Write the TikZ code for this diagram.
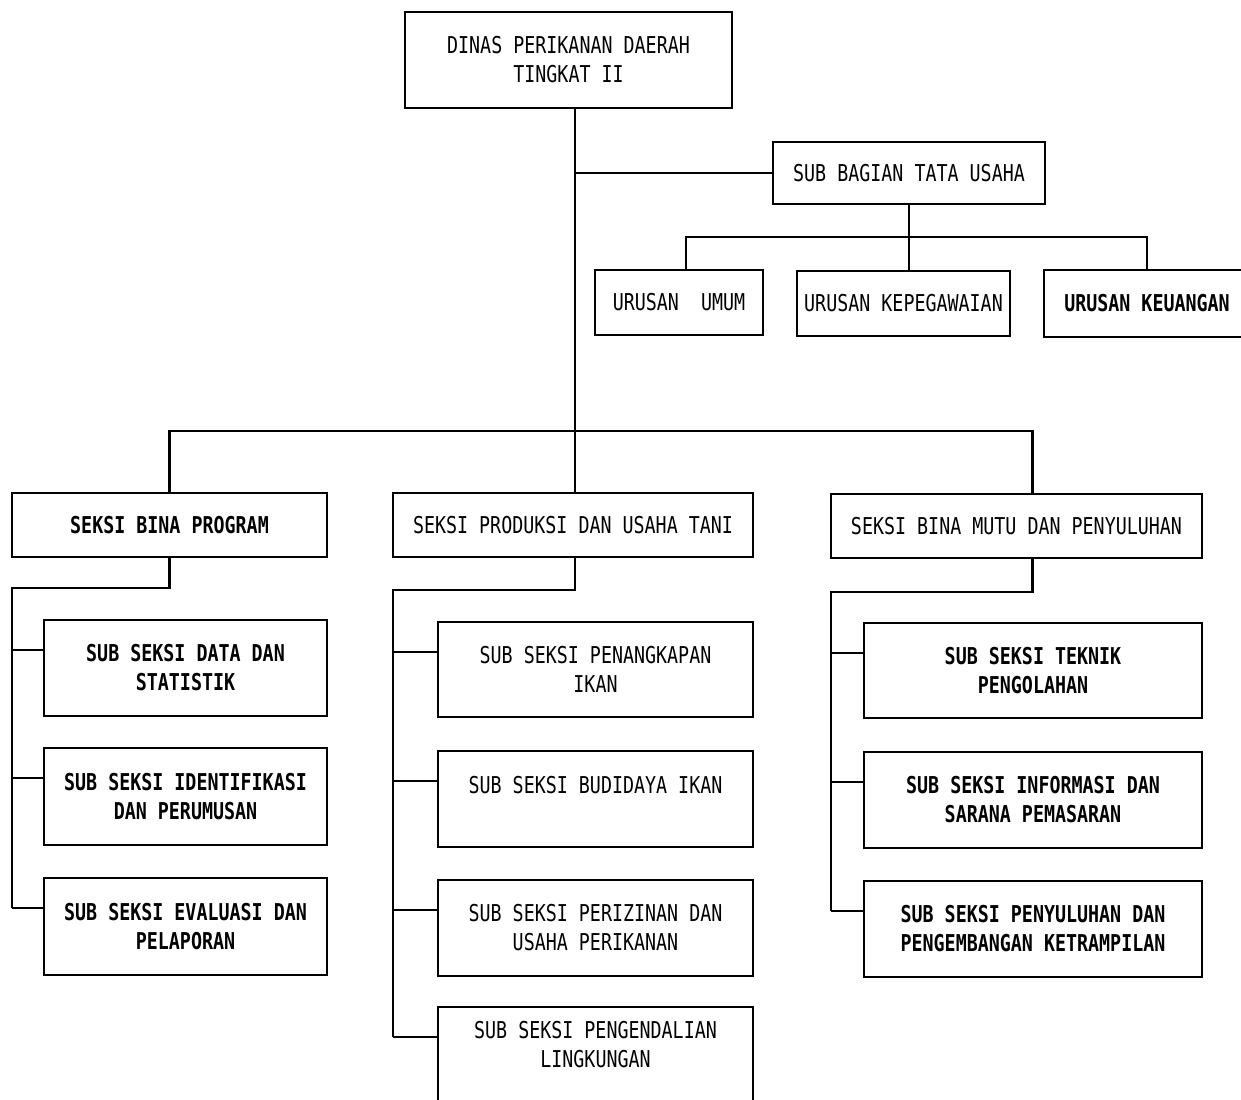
\documentclass[tikz,border=0pt]{standalone}
\usepackage{fontspec}
\newfontfamily\dotfont[FakeStretch=0.79]{DejaVu Sans Mono}
\usetikzlibrary{calc}
\newcommand\bx[7][box]{\node[#1,minimum width={(#4-#2)*0.5pt},minimum height={(#5-#3)*0.5pt}] (#6) at ({(#2+#4)/2},{(#3+#5)/2}) {#7};}
\begin{document}
\begin{tikzpicture}[x=0.5pt,y=-0.5pt,
  box/.style={draw,line width=1.1pt,inner sep=0pt,align=center,font=\dotfont\fontsize{11.6}{14.5}\selectfont},
  bbox/.style={box,font=\dotfont\bfseries\fontsize{11.6}{14.5}\selectfont},
  link/.style={line width=1.1pt}]
\useasboundingbox (0,0) rectangle (1241,1099);
\clip (0,0) rectangle (1241,1099);
% boxes
\bx{405}{12}{732}{108}{top}{DINAS PERIKANAN DAERAH\\TINGKAT II}
\bx{773}{142}{1045}{204}{sub}{SUB BAGIAN TATA USAHA}
\bx{595}{270}{763}{335}{umum}{URUSAN\ \ UMUM}
\bx{797}{271}{1010}{336}{kep}{URUSAN KEPEGAWAIAN}
\bx[bbox]{1044}{270}{1250}{337}{keu}{URUSAN KEUANGAN}
\bx[bbox]{12}{493}{327}{557}{bp}{SEKSI BINA PROGRAM}
\bx{393}{493}{753}{557}{pr}{SEKSI PRODUKSI DAN USAHA TANI}
\bx{831}{494}{1202}{558}{bm}{SEKSI BINA MUTU DAN PENYULUHAN}
\bx[bbox]{44}{620}{327}{716}{bp1}{SUB SEKSI DATA DAN\\STATISTIK}
\bx[bbox]{44}{748}{327}{845}{bp2}{SUB SEKSI IDENTIFIKASI\\DAN PERUMUSAN}
\bx[bbox]{44}{878}{327}{975}{bp3}{SUB SEKSI EVALUASI DAN\\PELAPORAN}
\bx{438}{622}{753}{717}{pr1}{SUB SEKSI PENANGKAPAN\\IKAN}
\bx{438}{751}{753}{847}{pr2}{SUB SEKSI BUDIDAYA IKAN\\\mbox{}}
\bx{438}{880}{753}{976}{pr3}{SUB SEKSI PERIZINAN DAN\\USAHA PERIKANAN}
\bx{438}{1007}{753}{1110}{pr4}{SUB SEKSI PENGENDALIAN\\LINGKUNGAN\\\mbox{}}
\bx[bbox]{864}{623}{1202}{718}{bm1}{SUB SEKSI TEKNIK\\PENGOLAHAN}
\bx[bbox]{864}{752}{1202}{848}{bm2}{SUB SEKSI INFORMASI DAN\\SARANA PEMASARAN}
\bx[bbox]{864}{881}{1202}{977}{bm3}{SUB SEKSI PENYULUHAN DAN\\PENGEMBANGAN KETRAMPILAN}
% junctions
\coordinate (j1) at (575,173);
\coordinate (j2) at (575,432);
\coordinate (k) at (909,238);
\coordinate (bpt) at (12,588);
\coordinate (prt) at (393,590);
\coordinate (bmt) at (831,592);
\foreach \b in {bp1,bp2,bp3,pr1,pr2,pr3,pr4,bm1,bm2,bm3}
  \coordinate (\b w) at ($(\b.north west)+(0,31)$);
% top connectors
\draw[link] (top.south -| j1) -- (j1) -- (j2);
\draw[link] (j1) -- (sub.west);
\draw[link] (sub.south -| k) -- (k) -- (kep.north -| k);
\draw[link] ($(umum.north)+(7,0)$) -- ++(0,-32) -| (keu.north);
% seksi row
\draw[link] (bp.north) -- ++(0,-61) -| ($(bm.north)+(16,0)$);
\draw[link] (j2) -- (pr.north -| j2);
% bina program subtree
\draw[link] (bp.south) |- (bpt) -- (bpt |- bp3w);
\foreach \b in {bp1,bp2,bp3} \draw[link] (\b w) -- (bpt |- \b w);
% produksi subtree
\draw[link] (pr.south -| j2) |- (prt) -- (prt |- pr4w);
\foreach \b in {pr1,pr2,pr3,pr4} \draw[link] (\b w) -- (prt |- \b w);
% bina mutu subtree
\draw[link] ($(bm.south)+(16,0)$) |- (bmt) -- (bmt |- bm3w);
\foreach \b in {bm1,bm2,bm3} \draw[link] (\b w) -- (bmt |- \b w);
\end{tikzpicture}
\end{document}
